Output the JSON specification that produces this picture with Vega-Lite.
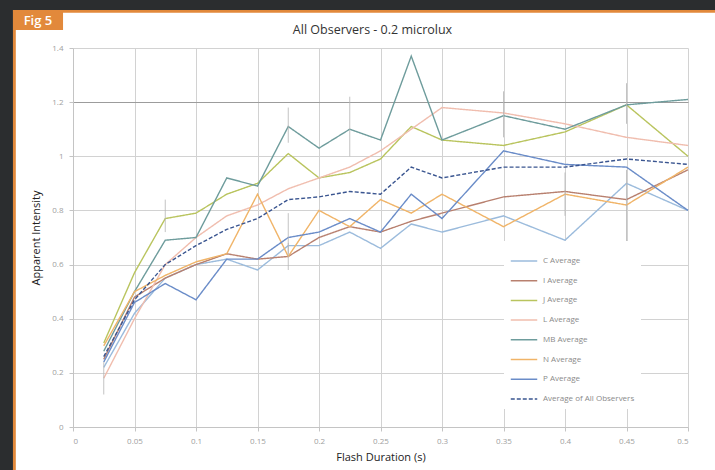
{
  "$schema": "https://vega.github.io/schema/vega-lite/v6.json",
  "width": 615,
  "height": 379,
  "autosize": {"type": "none"},
  "padding": {"left": 73, "top": 48, "right": 27, "bottom": 43},
  "background": "white",
  "title": {"text": "All Observers - 0.2 microlux", "frame": "group", "font": "Open Sans", "fontSize": 12.5, "fontWeight": "normal", "color": "#333333", "offset": 0, "baseline": "middle", "dy": 43, "dx": -8},
  "config": {
    "view": {"stroke": null},
    "font": "Open Sans",
    "axis": {
      "labelFont": "Open Sans", "labelFontSize": 8, "labelColor": "#a0a0a0",
      "gridColor": "#d2d2d2", "gridWidth": 1, "domainColor": "#c4c4c4", "tickColor": "#c4c4c4", "tickSize": 4,
      "titleFont": "Open Sans", "titleFontSize": 11, "titleFontWeight": "normal", "titleColor": "#222222"
    },
    "legend": {
      "orient": "none", "legendX": 431, "legendY": 193, "fillColor": "white", "padding": 6,
      "symbolType": "stroke", "symbolSize": 700, "symbolStrokeWidth": 1.5, "labelFontSize": 8, "labelColor": "#8a8a8a",
      "labelFont": "Open Sans", "rowPadding": 1.7, "labelOffset": 5, "title": null
    }
  },
  "datasets": {
    "obs": [
      {"s": "C Average", "d": 0.025, "v": 0.22}, {"s": "C Average", "d": 0.05, "v": 0.42}, {"s": "C Average", "d": 0.075, "v": 0.55}, {"s": "C Average", "d": 0.1, "v": 0.6},
      {"s": "C Average", "d": 0.125, "v": 0.62}, {"s": "C Average", "d": 0.15, "v": 0.58}, {"s": "C Average", "d": 0.175, "v": 0.67}, {"s": "C Average", "d": 0.2, "v": 0.67},
      {"s": "C Average", "d": 0.225, "v": 0.72}, {"s": "C Average", "d": 0.25, "v": 0.66}, {"s": "C Average", "d": 0.275, "v": 0.75}, {"s": "C Average", "d": 0.3, "v": 0.72},
      {"s": "C Average", "d": 0.35, "v": 0.78}, {"s": "C Average", "d": 0.4, "v": 0.69}, {"s": "C Average", "d": 0.45, "v": 0.9}, {"s": "C Average", "d": 0.5, "v": 0.8},

      {"s": "I Average", "d": 0.025, "v": 0.25}, {"s": "I Average", "d": 0.05, "v": 0.48}, {"s": "I Average", "d": 0.075, "v": 0.55}, {"s": "I Average", "d": 0.1, "v": 0.6},
      {"s": "I Average", "d": 0.125, "v": 0.64}, {"s": "I Average", "d": 0.15, "v": 0.62}, {"s": "I Average", "d": 0.175, "v": 0.63}, {"s": "I Average", "d": 0.2, "v": 0.7},
      {"s": "I Average", "d": 0.225, "v": 0.74}, {"s": "I Average", "d": 0.25, "v": 0.72}, {"s": "I Average", "d": 0.275, "v": 0.76}, {"s": "I Average", "d": 0.3, "v": 0.79},
      {"s": "I Average", "d": 0.35, "v": 0.85}, {"s": "I Average", "d": 0.4, "v": 0.87}, {"s": "I Average", "d": 0.45, "v": 0.84}, {"s": "I Average", "d": 0.5, "v": 0.95},

      {"s": "J Average", "d": 0.025, "v": 0.31}, {"s": "J Average", "d": 0.05, "v": 0.57}, {"s": "J Average", "d": 0.075, "v": 0.77}, {"s": "J Average", "d": 0.1, "v": 0.79},
      {"s": "J Average", "d": 0.125, "v": 0.86}, {"s": "J Average", "d": 0.15, "v": 0.9}, {"s": "J Average", "d": 0.175, "v": 1.01}, {"s": "J Average", "d": 0.2, "v": 0.92},
      {"s": "J Average", "d": 0.225, "v": 0.94}, {"s": "J Average", "d": 0.25, "v": 0.99}, {"s": "J Average", "d": 0.275, "v": 1.11}, {"s": "J Average", "d": 0.3, "v": 1.06},
      {"s": "J Average", "d": 0.35, "v": 1.04}, {"s": "J Average", "d": 0.4, "v": 1.09}, {"s": "J Average", "d": 0.45, "v": 1.19}, {"s": "J Average", "d": 0.5, "v": 1.0},

      {"s": "L Average", "d": 0.025, "v": 0.18}, {"s": "L Average", "d": 0.05, "v": 0.4}, {"s": "L Average", "d": 0.075, "v": 0.6}, {"s": "L Average", "d": 0.1, "v": 0.7},
      {"s": "L Average", "d": 0.125, "v": 0.78}, {"s": "L Average", "d": 0.15, "v": 0.82}, {"s": "L Average", "d": 0.175, "v": 0.88}, {"s": "L Average", "d": 0.2, "v": 0.92},
      {"s": "L Average", "d": 0.225, "v": 0.96}, {"s": "L Average", "d": 0.25, "v": 1.02}, {"s": "L Average", "d": 0.275, "v": 1.1}, {"s": "L Average", "d": 0.3, "v": 1.18},
      {"s": "L Average", "d": 0.35, "v": 1.16}, {"s": "L Average", "d": 0.4, "v": 1.12}, {"s": "L Average", "d": 0.45, "v": 1.07}, {"s": "L Average", "d": 0.5, "v": 1.04},

      {"s": "MB Average", "d": 0.025, "v": 0.28}, {"s": "MB Average", "d": 0.05, "v": 0.5}, {"s": "MB Average", "d": 0.075, "v": 0.69}, {"s": "MB Average", "d": 0.1, "v": 0.7},
      {"s": "MB Average", "d": 0.125, "v": 0.92}, {"s": "MB Average", "d": 0.15, "v": 0.89}, {"s": "MB Average", "d": 0.175, "v": 1.11}, {"s": "MB Average", "d": 0.2, "v": 1.03},
      {"s": "MB Average", "d": 0.225, "v": 1.1}, {"s": "MB Average", "d": 0.25, "v": 1.06}, {"s": "MB Average", "d": 0.275, "v": 1.37}, {"s": "MB Average", "d": 0.3, "v": 1.06},
      {"s": "MB Average", "d": 0.35, "v": 1.15}, {"s": "MB Average", "d": 0.4, "v": 1.1}, {"s": "MB Average", "d": 0.45, "v": 1.19}, {"s": "MB Average", "d": 0.5, "v": 1.21},

      {"s": "N Average", "d": 0.025, "v": 0.3}, {"s": "N Average", "d": 0.05, "v": 0.5}, {"s": "N Average", "d": 0.075, "v": 0.56}, {"s": "N Average", "d": 0.1, "v": 0.61},
      {"s": "N Average", "d": 0.125, "v": 0.64}, {"s": "N Average", "d": 0.15, "v": 0.86}, {"s": "N Average", "d": 0.175, "v": 0.63}, {"s": "N Average", "d": 0.2, "v": 0.8},
      {"s": "N Average", "d": 0.225, "v": 0.74}, {"s": "N Average", "d": 0.25, "v": 0.84}, {"s": "N Average", "d": 0.275, "v": 0.79}, {"s": "N Average", "d": 0.3, "v": 0.86},
      {"s": "N Average", "d": 0.35, "v": 0.74}, {"s": "N Average", "d": 0.4, "v": 0.86}, {"s": "N Average", "d": 0.45, "v": 0.82}, {"s": "N Average", "d": 0.5, "v": 0.96},

      {"s": "P Average", "d": 0.025, "v": 0.24}, {"s": "P Average", "d": 0.05, "v": 0.46}, {"s": "P Average", "d": 0.075, "v": 0.53}, {"s": "P Average", "d": 0.1, "v": 0.47},
      {"s": "P Average", "d": 0.125, "v": 0.62}, {"s": "P Average", "d": 0.15, "v": 0.62}, {"s": "P Average", "d": 0.175, "v": 0.7}, {"s": "P Average", "d": 0.2, "v": 0.72},
      {"s": "P Average", "d": 0.225, "v": 0.77}, {"s": "P Average", "d": 0.25, "v": 0.72}, {"s": "P Average", "d": 0.275, "v": 0.86}, {"s": "P Average", "d": 0.3, "v": 0.77},
      {"s": "P Average", "d": 0.35, "v": 1.02}, {"s": "P Average", "d": 0.4, "v": 0.97}, {"s": "P Average", "d": 0.45, "v": 0.96}, {"s": "P Average", "d": 0.5, "v": 0.8},

      {"s": "Average of All Observers", "d": 0.025, "v": 0.26}, {"s": "Average of All Observers", "d": 0.05, "v": 0.47}, {"s": "Average of All Observers", "d": 0.075, "v": 0.6}, {"s": "Average of All Observers", "d": 0.1, "v": 0.67},
      {"s": "Average of All Observers", "d": 0.125, "v": 0.73}, {"s": "Average of All Observers", "d": 0.15, "v": 0.77}, {"s": "Average of All Observers", "d": 0.175, "v": 0.84}, {"s": "Average of All Observers", "d": 0.2, "v": 0.85},
      {"s": "Average of All Observers", "d": 0.225, "v": 0.87}, {"s": "Average of All Observers", "d": 0.25, "v": 0.86}, {"s": "Average of All Observers", "d": 0.275, "v": 0.96}, {"s": "Average of All Observers", "d": 0.3, "v": 0.92},
      {"s": "Average of All Observers", "d": 0.35, "v": 0.96}, {"s": "Average of All Observers", "d": 0.4, "v": 0.96}, {"s": "Average of All Observers", "d": 0.45, "v": 0.99}, {"s": "Average of All Observers", "d": 0.5, "v": 0.97}
    ],
    "err": [
      {"s": "L Average", "d": 0.025, "lo": 0.12, "hi": 0.24},
      {"s": "J Average", "d": 0.075, "lo": 0.72, "hi": 0.84},
      {"s": "MB Average", "d": 0.175, "lo": 1.05, "hi": 1.18},
      {"s": "N Average", "d": 0.175, "lo": 0.58, "hi": 0.68},
      {"s": "P Average", "d": 0.175, "lo": 0.64, "hi": 0.79},
      {"s": "MB Average", "d": 0.225, "lo": 1.0, "hi": 1.22},
      {"s": "MB Average", "d": 0.35, "lo": 1.07, "hi": 1.24},
      {"s": "I Average", "d": 0.4, "lo": 0.78, "hi": 0.94},
      {"s": "MB Average", "d": 0.45, "lo": 1.12, "hi": 1.27},
      {"s": "N Average", "d": 0.45, "lo": 0.66, "hi": 0.95}
    ]
  },
  "layer": [
    {
      "data": {"name": "obs"},
      "mark": {"type": "line", "strokeWidth": 1.4},
      "encoding": {
        "x": {
          "field": "d", "type": "quantitative", "title": "Flash Duration (s)",
          "scale": {"domain": [0, 0.5], "nice": false},
          "axis": {"title": "Flash Duration (s)", "values": [0, 0.05, 0.1, 0.15, 0.2, 0.25, 0.3, 0.35, 0.4, 0.45, 0.5], "format": "~g", "labelPadding": 6, "titlePadding": 6}
        },
        "y": {
          "field": "v", "type": "quantitative", "title": "Apparent Intensity",
          "scale": {"domain": [0, 1.4], "nice": false},
          "axis": {
            "title": "Apparent Intensity", "values": [0, 0.2, 0.4, 0.6, 0.8, 1, 1.2, 1.4], "format": "~g", "labelPadding": 6, "titlePadding": 10,
            "gridColor": {"condition": {"test": "datum.value === 1.2", "value": "#9c9c9c"}, "value": "#d2d2d2"}
          }
        },
        "color": {
          "field": "s", "type": "nominal",
          "scale": {
            "domain": ["C Average", "I Average", "J Average", "L Average", "MB Average", "N Average", "P Average", "Average of All Observers"],
            "range": ["#9bbbdc", "#b8806f", "#b9c45e", "#f0bdae", "#6e9c9c", "#f0b468", "#6a8cc8", "#3a5590"]
          }
        },
        "strokeDash": {
          "field": "s", "type": "nominal",
          "scale": {
            "domain": ["C Average", "I Average", "J Average", "L Average", "MB Average", "N Average", "P Average", "Average of All Observers"],
            "range": [[1, 0], [1, 0], [1, 0], [1, 0], [1, 0], [1, 0], [1, 0], [4, 2]]
          }
        }
      }
    },
    {
      "data": {"name": "err"},
      "mark": {"type": "rule", "strokeWidth": 1, "color": "#b4b4b4", "opacity": 0.8},
      "encoding": {
        "x": {"field": "d", "type": "quantitative"},
        "y": {"field": "lo", "type": "quantitative"},
        "y2": {"field": "hi"}
      }
    },
    {
      "data": {"values": [{}]},
      "mark": {"type": "rect", "color": "#2b2d2f"},
      "encoding": {
        "x": {"datum": -0.05935, "type": "quantitative"},
        "x2": {"datum": -0.0488},
        "y": {"datum": -0.1589, "type": "quantitative"},
        "y2": {"datum": 1.5774}
      }
    },
    {
      "data": {"values": [{}]},
      "mark": {"type": "rect", "color": "#2b2d2f"},
      "encoding": {
        "x": {"datum": -0.05935, "type": "quantitative"},
        "x2": {"datum": 0.522},
        "y": {"datum": 1.54, "type": "quantitative"},
        "y2": {"datum": 1.5774}
      }
    },
    {
      "data": {"values": [{}]},
      "mark": {"type": "rect", "color": "#e2893b"},
      "encoding": {
        "x": {"datum": -0.0488, "type": "quantitative"},
        "x2": {"datum": -0.0465},
        "y": {"datum": -0.1589, "type": "quantitative"},
        "y2": {"datum": 1.54}
      }
    },
    {
      "data": {"values": [{}]},
      "mark": {"type": "rect", "color": "#e2893b"},
      "encoding": {
        "x": {"datum": -0.0488, "type": "quantitative"},
        "x2": {"datum": 0.522},
        "y": {"datum": 1.53, "type": "quantitative"},
        "y2": {"datum": 1.54}
      }
    },
    {
      "data": {"values": [{}]},
      "mark": {"type": "rect", "color": "#e2893b"},
      "encoding": {
        "x": {"datum": -0.0488, "type": "quantitative"},
        "x2": {"datum": -0.0081},
        "y": {"datum": 1.4666, "type": "quantitative"},
        "y2": {"datum": 1.54}
      }
    },
    {
      "data": {"values": [{}]},
      "mark": {"type": "text", "text": "Fig 5", "color": "white", "font": "Open Sans", "fontSize": 13, "fontWeight": 600, "baseline": "middle", "align": "center"},
      "encoding": {
        "x": {"datum": -0.0285, "type": "quantitative"},
        "y": {"datum": 1.5, "type": "quantitative"}
      }
    }
  ]
}
